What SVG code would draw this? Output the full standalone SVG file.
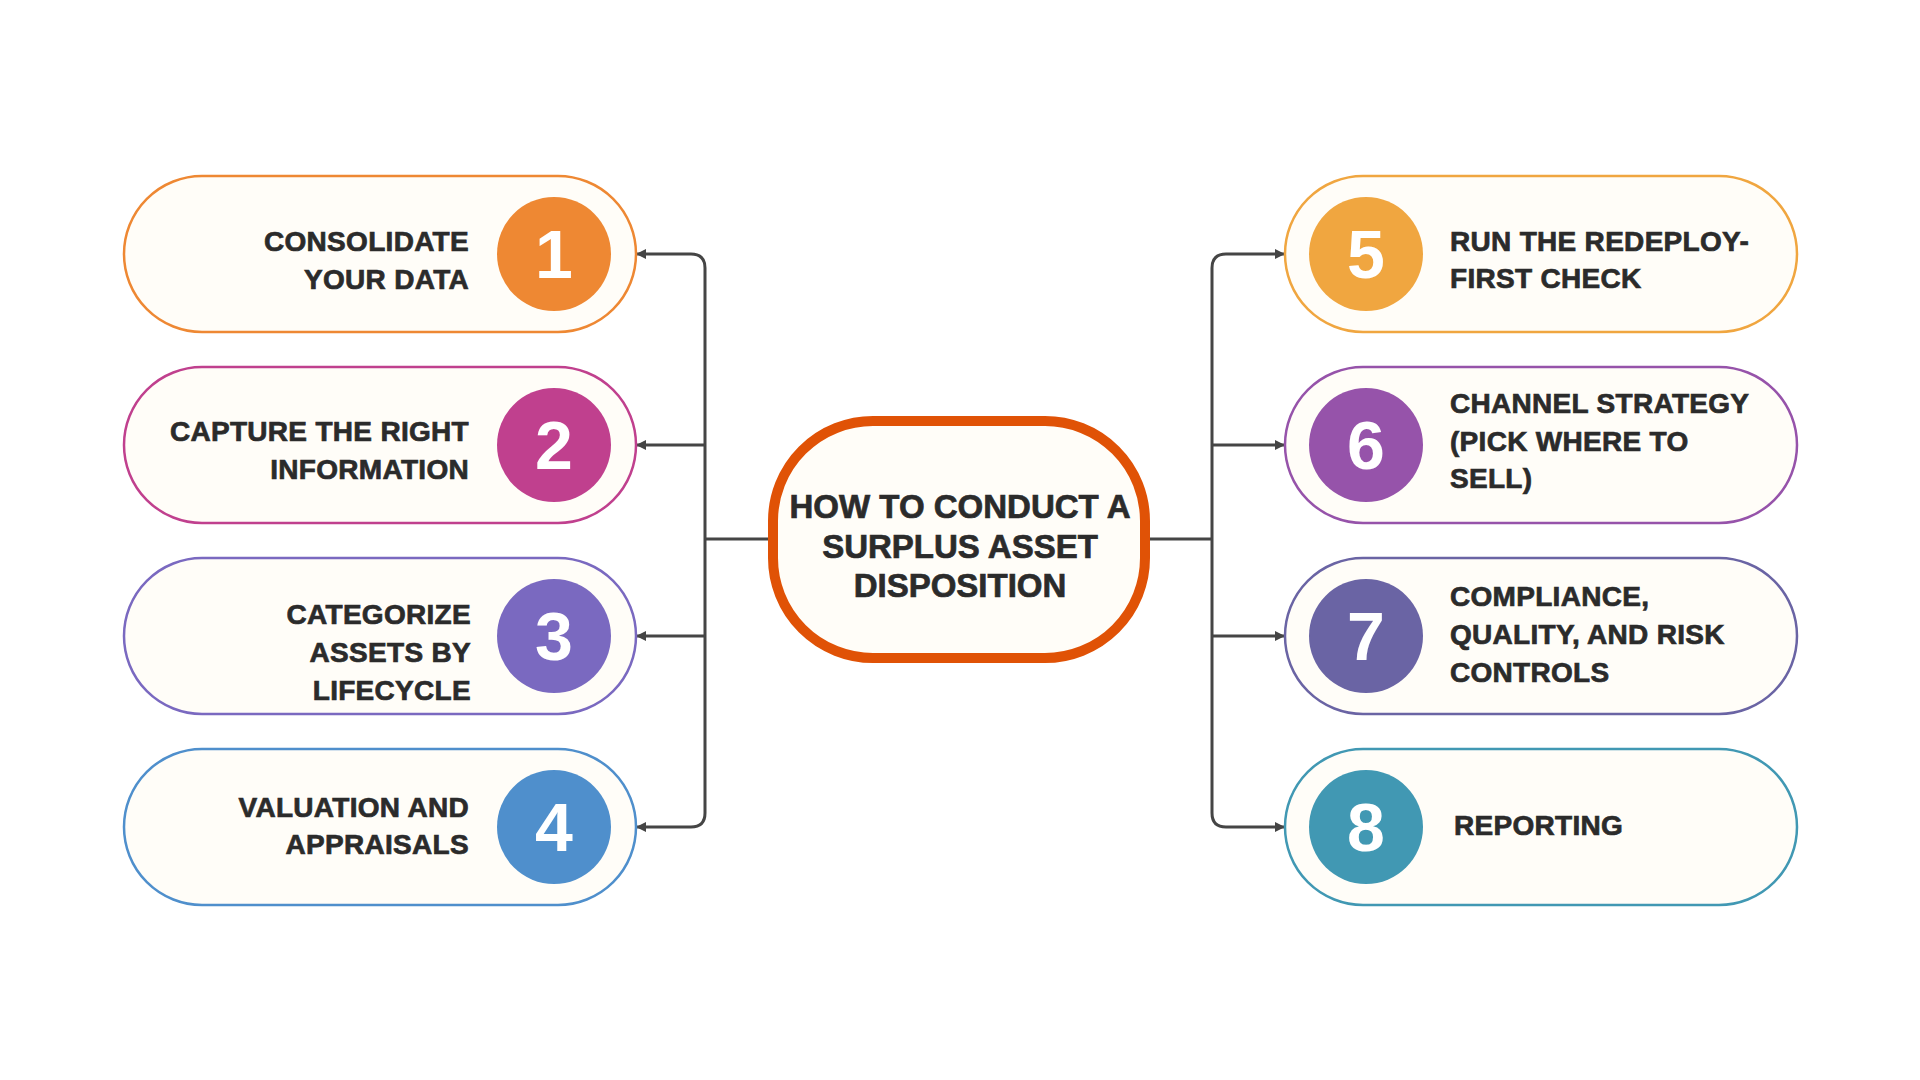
<svg xmlns="http://www.w3.org/2000/svg" width="1920" height="1080" viewBox="0 0 1920 1080">
<style>
.pill{fill:#FFFDF8;stroke-width:2.5}
.lbl{font-family:"Liberation Sans",Arial,sans-serif;font-weight:700;font-size:28px;fill:#2B2B2B;stroke:#2B2B2B;stroke-width:0.7;letter-spacing:0.3px}
.lr{text-anchor:end}
.num{font-family:"Liberation Sans",Arial,sans-serif;font-weight:700;font-size:68px;fill:#FFFFFF;text-anchor:middle}
.title{font-family:"Liberation Sans",Arial,sans-serif;font-weight:700;font-size:33px;fill:#2B2B2B;stroke:#2B2B2B;stroke-width:0.7;text-anchor:middle}
.conn{fill:none;stroke:#454545;stroke-width:3}
</style>
<defs>
<marker id="arr" viewBox="0 0 10 10" refX="9" refY="5" markerWidth="10" markerHeight="10" markerUnits="userSpaceOnUse" orient="auto">
<path d="M0,0 L10,5 L0,10 Z" fill="#454545"/>
</marker>
</defs>
<rect width="1920" height="1080" fill="#FFFFFF"/>

<g id="connectors">
<path class="conn" d="M768,539 H705"/>
<path class="conn" d="M705,268 V813"/>
<path class="conn" d="M705,268 Q705,254 691,254 H637" marker-end="url(#arr)"/>
<path class="conn" d="M705,445 H637" marker-end="url(#arr)"/>
<path class="conn" d="M705,636 H637" marker-end="url(#arr)"/>
<path class="conn" d="M705,813 Q705,827 691,827 H637" marker-end="url(#arr)"/>
<path class="conn" d="M1150,539 H1212"/>
<path class="conn" d="M1212,268 V813"/>
<path class="conn" d="M1212,268 Q1212,254 1226,254 H1284" marker-end="url(#arr)"/>
<path class="conn" d="M1212,445 H1284" marker-end="url(#arr)"/>
<path class="conn" d="M1212,636 H1284" marker-end="url(#arr)"/>
<path class="conn" d="M1212,813 Q1212,827 1226,827 H1284" marker-end="url(#arr)"/>
</g>

<g id="center">
<rect x="773" y="421" width="372" height="237" rx="100" ry="100" fill="#FFFDF8" stroke="#E05206" stroke-width="10"/>
<text class="title" x="960" y="518">HOW TO CONDUCT A</text>
<text class="title" x="960" y="558">SURPLUS ASSET</text>
<text class="title" x="960" y="597">DISPOSITION</text>
</g>

<g id="node1">
<rect class="pill" x="124" y="176" width="512" height="156" rx="78" stroke="#EE8833"/>
<circle cx="554" cy="254" r="57" fill="#EE8833"/>
<text class="num" x="554" y="278">1</text>
<text class="lbl lr" x="469" y="251">CONSOLIDATE</text>
<text class="lbl lr" x="469" y="289">YOUR DATA</text>
</g>

<g id="node2">
<rect class="pill" x="124" y="367" width="512" height="156" rx="78" stroke="#C0408E"/>
<circle cx="554" cy="445" r="57" fill="#C0408E"/>
<text class="num" x="554" y="469">2</text>
<text class="lbl lr" x="469" y="441">CAPTURE THE RIGHT</text>
<text class="lbl lr" x="469" y="479">INFORMATION</text>
</g>

<g id="node3">
<rect class="pill" x="124" y="558" width="512" height="156" rx="78" stroke="#7A69C0"/>
<circle cx="554" cy="636" r="57" fill="#7A69C0"/>
<text class="num" x="554" y="660">3</text>
<text class="lbl lr" x="471" y="624">CATEGORIZE</text>
<text class="lbl lr" x="471" y="662">ASSETS BY</text>
<text class="lbl lr" x="471" y="700">LIFECYCLE</text>
</g>

<g id="node4">
<rect class="pill" x="124" y="749" width="512" height="156" rx="78" stroke="#4F8FCC"/>
<circle cx="554" cy="827" r="57" fill="#4F8FCC"/>
<text class="num" x="554" y="851">4</text>
<text class="lbl lr" x="469" y="817">VALUATION AND</text>
<text class="lbl lr" x="469" y="854">APPRAISALS</text>
</g>

<g id="node5">
<rect class="pill" x="1285" y="176" width="512" height="156" rx="78" stroke="#F0A640"/>
<circle cx="1366" cy="254" r="57" fill="#F0A640"/>
<text class="num" x="1366" y="278">5</text>
<text class="lbl" x="1450" y="251">RUN THE REDEPLOY-</text>
<text class="lbl" x="1450" y="288">FIRST CHECK</text>
</g>

<g id="node6">
<rect class="pill" x="1285" y="367" width="512" height="156" rx="78" stroke="#9653AA"/>
<circle cx="1366" cy="445" r="57" fill="#9653AA"/>
<text class="num" x="1366" y="469">6</text>
<text class="lbl" x="1450" y="413">CHANNEL STRATEGY</text>
<text class="lbl" x="1450" y="451">(PICK WHERE TO</text>
<text class="lbl" x="1450" y="488">SELL)</text>
</g>

<g id="node7">
<rect class="pill" x="1285" y="558" width="512" height="156" rx="78" stroke="#6A64A4"/>
<circle cx="1366" cy="636" r="57" fill="#6A64A4"/>
<text class="num" x="1366" y="660">7</text>
<text class="lbl" x="1450" y="606">COMPLIANCE,</text>
<text class="lbl" x="1450" y="644">QUALITY, AND RISK</text>
<text class="lbl" x="1450" y="682">CONTROLS</text>
</g>

<g id="node8">
<rect class="pill" x="1285" y="749" width="512" height="156" rx="78" stroke="#4198B3"/>
<circle cx="1366" cy="827" r="57" fill="#4198B3"/>
<text class="num" x="1366" y="851">8</text>
<text class="lbl" x="1454" y="835">REPORTING</text>
</g>
</svg>
